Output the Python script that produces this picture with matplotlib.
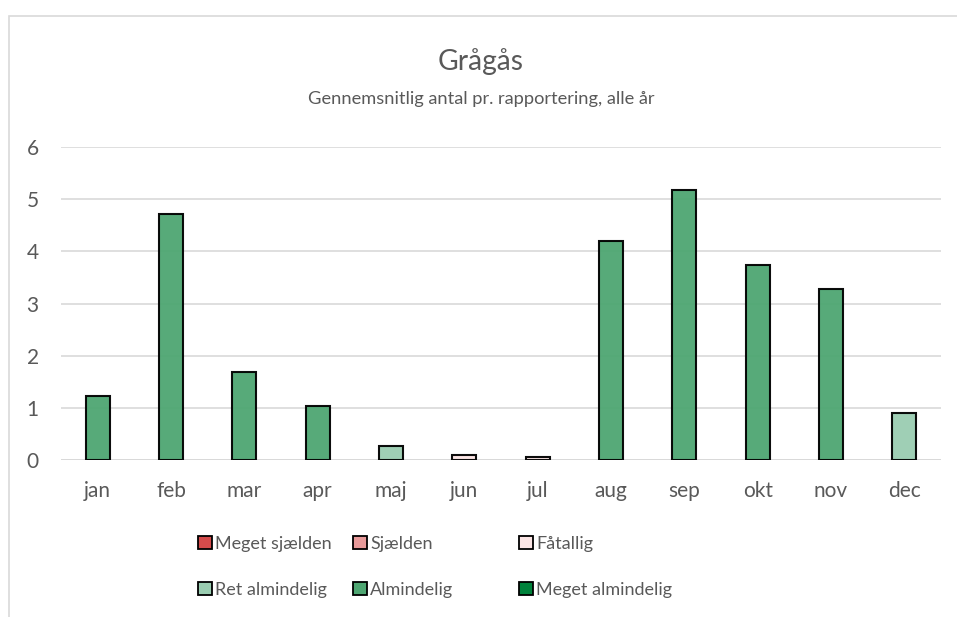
import matplotlib
matplotlib.use("Agg")
import matplotlib.pyplot as plt
from matplotlib.patches import Patch, Rectangle

plt.rcParams['font.family'] = ['Lato', 'DejaVu Sans']

months = ["jan", "feb", "mar", "apr", "maj", "jun", "jul", "aug", "sep", "okt", "nov", "dec"]
values = [1.23, 4.72, 1.69, 1.04, 0.27, 0.10, 0.06, 4.19, 5.17, 3.73, 3.28, 0.90]
month_cat = ["Almindelig", "Almindelig", "Almindelig", "Almindelig", "Ret almindelig",
             "Fåtallig", "Fåtallig", "Almindelig", "Almindelig", "Almindelig",
             "Almindelig", "Ret almindelig"]
categories = ["Meget sjælden", "Sjælden", "Fåtallig",
              "Ret almindelig", "Almindelig", "Meget almindelig"]
cat_colors = ["#D54B4B", "#E89A9A", "#FBE5E5", "#9ACDB1", "#4EA672", "#00823B"]
yticks = [0, 1, 2, 3, 4, 5, 6]

title = "Grågås"
subtitle = "Gennemsnitlig antal pr. rapportering, alle år"

W, H = 957, 617
fig = plt.figure(figsize=(W / 100, H / 100), dpi=100)
txt = "#595959"

# outer chart border
fig.patches.append(Rectangle((8.5 / W, -0.1), 1.2, (H - 15.5) / H + 0.1, transform=fig.transFigure,
                             fill=False, edgecolor="#D9D9D9", linewidth=1.2))

ax = fig.add_axes([61 / W, (H - 460) / H, (941 - 61) / W, (460 - 147) / H])
cmap = dict(zip(categories, cat_colors))
colors = [cmap[c] for c in month_cat]
x = list(range(len(months)))
ax.bar(x, values, width=0.33, color=colors, edgecolor="black", linewidth=1.5, zorder=3, alpha=0.95)
ax.set_xlim(-0.5, len(months) - 0.5)
ax.set_ylim(0, 6)
ax.set_yticks(yticks)
ax.set_xticks(x)
ax.set_xticklabels(months)
ax.grid(axis="y", color="#D9D9D9", linewidth=1.2, zorder=0)
for s in ax.spines.values():
    s.set_visible(False)
ax.tick_params(length=0, labelsize=15, colors=txt)
ax.tick_params(axis="x", pad=15)
ax.tick_params(axis="y", pad=16)
ax.axhline(0, color="#D9D9D9", linewidth=1.4, zorder=2)

fig.text(481 / W, 1 - 62 / H, title, ha="center", va="center", fontsize=20.3, color=txt)
fig.text(481 / W, 1 - 99 / H, subtitle, ha="center", va="center", fontsize=13.15, color=txt)

# legend, one entry per category
leg_x = [198, 353, 519]
leg_y = [544, 590]
for i, (cat, col) in enumerate(zip(categories, cat_colors)):
    lx = leg_x[i % 3]
    ly = leg_y[i // 3]
    h = Patch(facecolor=col, edgecolor="black", linewidth=1.3)
    lg = fig.legend([h], [cat], loc="center left", bbox_to_anchor=(lx / W, 1 - ly / H),
                    frameon=False, borderpad=0, borderaxespad=0, handlelength=0.75,
                    handleheight=0.75, handletextpad=0.2, fontsize=13)
    for t in lg.get_texts():
        t.set_color(txt)

fig.savefig("out.png", dpi=100)
